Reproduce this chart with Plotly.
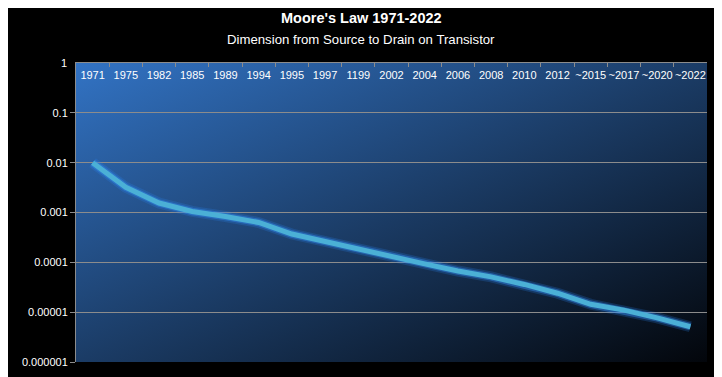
import base64
import math
import plotly.graph_objects as go

years = ["1971", "1975", "1982", "1985", "1989", "1994", "1995", "1997", "1199", "2002",
         "2004", "2006", "2008", "2010", "2012", "~2015", "~2017", "~2020", "~2022"]
dimension = [0.01, 0.0032, 0.00155, 0.00105, 0.00083, 0.00063, 0.00037, 0.00026, 0.000178,
             0.000129, 0.000093, 0.000067, 0.000051, 0.000036, 0.000024, 0.0000144,
             0.000011, 0.0000077, 0.0000051]
y_tickvals = [1, 0.1, 0.01, 0.001, 0.0001, 0.00001, 0.000001]
y_ticktext = ["1", "0.1", "0.01", "0.001", "0.0001", "0.00001", "0.000001"]

svg = (
    '<svg xmlns="http://www.w3.org/2000/svg" width="631" height="299" viewBox="0 0 631 299" preserveAspectRatio="none">'
    '<defs><linearGradient id="g" x1="0" y1="0" x2="1" y2="1">'
    '<stop offset="0" stop-color="#3273c4"/>'
    '<stop offset="0.5" stop-color="#1b3c66"/>'
    '<stop offset="1" stop-color="#03060b"/>'
    '</linearGradient></defs>'
    '<rect x="0" y="0" width="631" height="299" fill="url(#g)"/></svg>'
)
bg_uri = "data:image/svg+xml;base64," + base64.b64encode(svg.encode()).decode()

fig = go.Figure()
# glow
fig.add_trace(go.Scatter(x=years, y=dimension, mode="lines",
                         line=dict(color="rgba(40,130,240,0.22)", width=11),
                         hoverinfo="skip", showlegend=False))
fig.add_trace(go.Scatter(x=years, y=dimension, mode="lines",
                         line=dict(color="rgba(50,140,240,0.45)", width=7.5),
                         hoverinfo="skip", showlegend=False))
fig.add_trace(go.Scatter(x=years, y=dimension, mode="lines",
                         line=dict(color="#4bb0d6", width=5),
                         showlegend=False))

fig.update_layout(
    width=722, height=377,
    margin=dict(l=68, r=23, t=55, b=23, autoexpand=False),
    paper_bgcolor="black",
    plot_bgcolor="rgba(0,0,0,0)",
    font=dict(family="Liberation Sans, Arial, sans-serif", color="white", size=11),
    images=[dict(source=bg_uri, xref="paper", yref="paper", x=0, y=1,
                 sizex=1, sizey=1, sizing="stretch", layer="below",
                 xanchor="left", yanchor="top")],
    annotations=[
        dict(text="<b>Moore's Law 1971-2022</b>", xref="paper", yref="paper",
             x=0.4517, y=1, yshift=45, showarrow=False,
             font=dict(size=14.5, color="white"), xanchor="center", yanchor="middle"),
        dict(text="Dimension from Source to Drain on Transistor", xref="paper", yref="paper",
             x=0.4517, y=1, yshift=24, showarrow=False,
             font=dict(size=13.2, color="white"), xanchor="center", yanchor="middle"),
        # top y tick label (plotly hides it next to the inside x labels)
        dict(text=y_ticktext[0], xref="paper", yref="y",
             x=0, y=math.log10(y_tickvals[0]), xshift=-7, showarrow=False,
             font=dict(size=11, color="white"), xanchor="right", yanchor="middle"),
    ],
    showlegend=False,
)
fig.update_xaxes(type="category", side="top", ticklabelposition="inside",
                 ticks="inside", tickson="boundaries", ticklen=4, tickcolor="#8c8c8c",
                 showline=True, linecolor="#8c8c8c", linewidth=1, tickangle=0,
                 automargin=False, ticklabelstandoff=4,
                 showgrid=False, zeroline=False, range=[-0.5, 18.5],
                 tickfont=dict(size=11, color="white"))
fig.update_yaxes(type="log", range=[-6, 0.0002], tickvals=y_tickvals, ticktext=y_ticktext,
                 ticks="outside", ticklen=5, tickcolor="#8c8c8c", automargin=False,
                 showline=True, linecolor="#8c8c8c", linewidth=1,
                 showgrid=True, gridcolor="#8c8c8c", gridwidth=1, zeroline=False,
                 tickfont=dict(size=11, color="white"))

fig.write_html("out.html")
